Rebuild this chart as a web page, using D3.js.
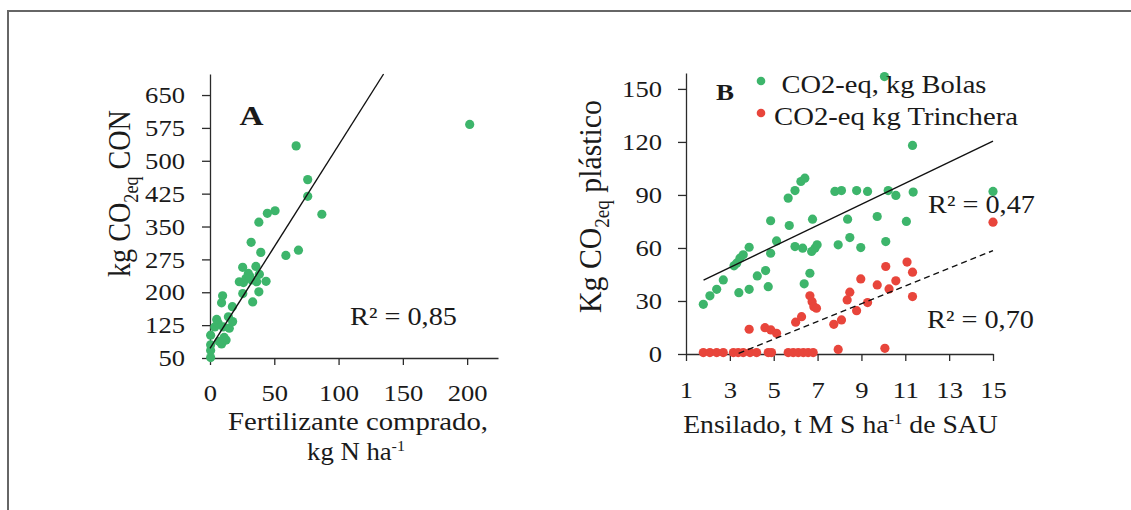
<!DOCTYPE html>
<html>
<head>
<meta charset="utf-8">
<script src="https://cdn.jsdelivr.net/npm/d3@7"></script>
<style>
  body { margin: 0; background: #fff; }
  text { fill: #1a1a1a; }
</style>
</head>
<body>
<div id="chart"></div>
<script>
// panel A: purchased fertiliser vs kg CO2eq
var fertN  = [0.5, 0.5, 0.5, 0.5, 9, 12.5, 11, 7, 3.7, 10.3, 15, 6.4, 17.6, 5.2, 14.3, 17.4, 9, 9.8, 33.2, 25.5, 38, 26, 36.3, 22.8, 43.6, 32.5, 29.8, 28, 31, 38.4, 25.4, 35.7, 59, 39.5, 68.8, 32, 38, 44.6, 50.6, 87, 76, 76, 67, 202]
var co2Con = [51, 67, 80, 102, 82, 91, 97, 88, 121, 121, 118, 129, 133, 138, 144, 167, 176, 192, 178, 197, 201, 222, 224, 224, 225, 228, 243, 232, 236, 241, 257, 259, 284, 291, 296, 314, 360, 380, 386, 378, 419, 457, 534, 583]
var fitA = [[0, 72], [135, 698]]
var ticksAx = [0, 50, 100, 150, 200]
var ticksAy = [50, 125, 200, 275, 350, 425, 500, 575, 650]

// panel B: ensilado vs plastic CO2eq
var ensBolas = [1.79, 2.09, 2.4, 2.7, 3.19, 3.31, 3.46, 3.61, 3.88, 3.41, 3.88, 4.25, 4.63, 4.75, 4.86, 4.86, 5.13, 5.66, 5.97, 5.71, 5.97, 6.32, 6.24, 6.42, 6.39, 6.65, 6.77, 6.73, 6.88, 6.98, 7.79, 8.09, 7.94, 8.37, 8.47, 8.78, 8.97, 9.28, 9.72, 10.05, 10.22, 10.11, 10.57, 11.05, 11.33, 11.36, 15]
var co2Bolas = [28.1, 32.9, 36.6, 41.9, 49.9, 51.4, 54.2, 56.1, 60.4, 34.7, 36.6, 44.2, 47.2, 38.1, 75.4, 57, 64, 88.2, 92.5, 72.7, 60.8, 59.9, 97.6, 99.5, 39.7, 45.7, 76.3, 58, 59.9, 61.8, 92, 92.5, 61.8, 76.3, 65.9, 92.5, 60.2, 92, 77.8, 157, 92.5, 63.6, 89.7, 75, 118, 91.6, 92]
var ensTrinch = [1.79, 2.09, 2.4, 2.7, 3.16, 3.38, 3.61, 3.92, 4.22, 4.75, 4.9, 5.66, 5.89, 6.12, 6.35, 6.57, 6.8, 3.88, 4.6, 4.87, 5.13, 6.0, 6.27, 6.65, 6.75, 6.83, 6.95, 7.74, 8.09, 7.94, 8.35, 8.47, 8.78, 8.97, 9.28, 9.72, 10.11, 10.26, 10.07, 10.57, 11.08, 11.33, 11.33, 15]
var co2Trinch = [0.8, 0.8, 0.8, 0.8, 0.8, 0.8, 0.8, 0.8, 0.8, 0.8, 0.8, 0.8, 0.8, 0.8, 0.8, 0.8, 0.8, 14, 14.9, 13.6, 11.7, 18, 21.1, 32.9, 29.6, 26.8, 25.9, 16.8, 19.3, 2.6, 30.6, 35, 24.5, 42.5, 29.1, 39.1, 49.5, 36.8, 3.2, 41.4, 52, 46.3, 32.5, 74.6]
var fitBolas = [[1.8, 41.8], [15, 120.5]]
var fitTrinch = [[3.4, 0.4], [15, 58.5]]
var ticksBx = [1, 3, 5, 7, 9, 11, 13, 15]
var ticksBy = [0, 30, 60, 90, 120, 150]

var green = "#3db56b"
var red = "#e8453b"
var axisColor = "#2b2b2b"

var width = 1131
var height = 510

// pick a Times-like serif if one is installed, otherwise fall back
function hasFont(name) {
    var c = document.createElement("canvas").getContext("2d")
    var s = "abcdefghijklmnopqrstuvwxyz ABCDEFGHIJKLM 0123456789"
    c.font = "40px monospace"
    var w0 = c.measureText(s).width
    c.font = "40px '" + name + "', monospace"
    return c.measureText(s).width !== w0
}
var timesLike = ["Liberation Serif", "Times New Roman", "Tinos", "Nimbus Roman", "FreeSerif"].filter(hasFont)
var font = timesLike.length ? "'" + timesLike[0] + "', serif" : "'DejaVu Serif', serif"
// DejaVu has taller caps than Times, so shrink sizes to keep glyph heights
var k = timesLike.length ? 1 : 0.91
function fs(px) { return (px * k) + "px" }

var svg = d3.select("#chart")
    .append("svg")
    .attr("width", width)
    .attr("height", height)
    .style("font-family", font)

// frame (top + left edge)
svg.append("path")
    .attr("d", "M8," + height + " V11 H" + width)
    .attr("fill", "none")
    .attr("stroke", "#666")
    .attr("stroke-width", 2)

// stretch a horizontal label to the width it has in the picture
function fitH(t, cx, by, w) {
    var len = t.node().getComputedTextLength()
    t.attr("x", 0).attr("y", 0).attr("text-anchor", "middle")
        .attr("transform", "translate(" + cx + "," + by + ") scale(" + (w / len) + ",1)")
}

// rotated label: length along the axis, sx widens the glyphs
function fitV(t, bx, cy, len, sx) {
    var l = t.node().getComputedTextLength()
    t.attr("x", 0).attr("y", 0).attr("text-anchor", "middle")
        .attr("transform", "translate(" + bx + "," + cy + ") scale(" + sx + "," + (len / l) + ") rotate(-90)")
}

function styleAxis(g) {
    g.attr("font-family", null)
    g.select(".domain").attr("stroke", axisColor).attr("stroke-width", 1.3)
    g.selectAll(".tick line").attr("stroke", axisColor).attr("stroke-width", 1.3)
    g.selectAll(".tick text")
        .attr("fill", "#1a1a1a")
        .style("font-size", fs(24))
        .style("font-family", font)
        .each(function() {
            var t = d3.select(this)
            var n = t.text().length
            // digits are ~13.3px wide in the picture
            var sx = 13.3 * n / this.getComputedTextLength()
            var x = +t.attr("x") || 0
            t.attr("x", 0).attr("transform", "translate(" + x + ",0) scale(" + sx + ",1)")
        })
}

function drawPanel(cfg) {
    var x = d3.scaleLinear().domain(cfg.xDomain).range(cfg.xRange)
    var y = d3.scaleLinear().domain(cfg.yDomain).range(cfg.yRange)

    var gx = svg.append("g")
        .attr("transform", "translate(0," + cfg.yRange[0] + ")")
        .call(d3.axisBottom(x).tickValues(cfg.xTicks).tickSize(7).tickSizeOuter(0).tickPadding(cfg.xPad))
    styleAxis(gx)

    var gy = svg.append("g")
        .attr("transform", "translate(" + cfg.xRange[0] + ",0)")
        .call(d3.axisLeft(y).tickValues(cfg.yTicks).tickSize(8).tickSizeOuter(0).tickPadding(cfg.yPad))
    styleAxis(gy)

    return { x: x, y: y }
}

// ---------- panel A ----------
var A = drawPanel({
    xDomain: [0, 224], xRange: [210, 498],
    yDomain: [50, 698], yRange: [358, 74],
    xTicks: ticksAx, yTicks: ticksAy, xPad: 19, yPad: 17
})

svg.append("g")
    .selectAll("circle")
    .data(d3.zip(fertN, co2Con))
    .enter()
    .append("circle")
    .attr("cx", function(d) { return A.x(d[0]) })
    .attr("cy", function(d) { return A.y(d[1]) })
    .attr("r", 4.6)
    .attr("fill", green)

svg.append("path")
    .datum(fitA)
    .attr("d", d3.line().x(function(d) { return A.x(d[0]) }).y(function(d) { return A.y(d[1]) }))
    .attr("stroke", "#111")
    .attr("stroke-width", 1.4)
    .attr("fill", "none")

var tA = svg.append("text").style("font-size", fs(27)).style("font-weight", "bold").text("A")
fitH(tA, 251.5, 125, 24)

var r85 = svg.append("text").style("font-size", fs(25)).text("R² = 0,85")
fitH(r85, 403.5, 325, 107)

var xa1 = svg.append("text").style("font-size", fs(25)).text("Fertilizante comprado,")
fitH(xa1, 358, 430, 260)

var xa2 = svg.append("text").style("font-size", fs(25))
xa2.append("tspan").text("kg N ha")
xa2.append("tspan").attr("dy", -9).style("font-size", fs(15)).text("-1")
fitH(xa2, 356, 460, 98)

var ya = svg.append("text").style("font-size", fs(28))
ya.append("tspan").text("kg CO")
ya.append("tspan").attr("dy", 7).style("font-size", fs(18)).text("2eq")
ya.append("tspan").attr("dy", -7).text(" CON")
fitV(ya, 130, 193.5, 167, 1.15)

// ---------- panel B ----------
var B = drawPanel({
    xDomain: [1, 15], xRange: [686, 993],
    yDomain: [0, 159], yRange: [354, 73],
    xTicks: ticksBx, yTicks: ticksBy, xPad: 20, yPad: 16
})

var line = d3.line().x(function(d) { return B.x(d[0]) }).y(function(d) { return B.y(d[1]) })

svg.append("g")
    .selectAll("circle")
    .data(d3.zip(ensTrinch, co2Trinch))
    .enter()
    .append("circle")
    .attr("cx", function(d) { return B.x(d[0]) })
    .attr("cy", function(d) { return B.y(d[1]) })
    .attr("r", 4.6)
    .attr("fill", red)

svg.append("g")
    .selectAll("circle")
    .data(d3.zip(ensBolas, co2Bolas))
    .enter()
    .append("circle")
    .attr("cx", function(d) { return B.x(d[0]) })
    .attr("cy", function(d) { return B.y(d[1]) })
    .attr("r", 4.6)
    .attr("fill", green)

svg.append("path")
    .datum(fitBolas)
    .attr("d", line)
    .attr("stroke", "#111")
    .attr("stroke-width", 1.4)
    .attr("fill", "none")

svg.append("path")
    .datum(fitTrinch)
    .attr("d", line)
    .attr("stroke", "#111")
    .attr("stroke-width", 1.4)
    .attr("stroke-dasharray", "6,4")
    .attr("fill", "none")

var tB = svg.append("text").style("font-size", fs(23)).style("font-weight", "bold").text("B")
fitH(tB, 725, 100, 18)

// legend
var legend = [
    { label: "CO2-eq, kg Bolas", color: green, cy: 81, cx: 884, by: 93, w: 205 },
    { label: "CO2-eq kg Trinchera", color: red, cy: 113, cx: 896, by: 125, w: 244 }
]
legend.forEach(function(l) {
    svg.append("circle").attr("cx", 761).attr("cy", l.cy).attr("r", 4.3).attr("fill", l.color)
    var t = svg.append("text").style("font-size", fs(25)).text(l.label)
    fitH(t, l.cx, l.by, l.w)
})

var r47 = svg.append("text").style("font-size", fs(25)).text("R² = 0,47")
fitH(r47, 981.5, 213, 107)
var r70 = svg.append("text").style("font-size", fs(25)).text("R² = 0,70")
fitH(r70, 980.5, 328, 107)

var xb = svg.append("text").style("font-size", fs(25))
xb.append("tspan").text("Ensilado, t M S ha")
xb.append("tspan").attr("dy", -9).style("font-size", fs(15)).text("-1")
xb.append("tspan").attr("dy", 9).text(" de SAU")
fitH(xb, 840.5, 433, 315)

var yb = svg.append("text").style("font-size", fs(28))
yb.append("tspan").text("Kg  CO")
yb.append("tspan").attr("dy", 7).style("font-size", fs(18)).text("2eq")
yb.append("tspan").attr("dy", -7).text(" plástico")
fitV(yb, 601, 206.5, 213, 1.15)
</script>
</body>
</html>
